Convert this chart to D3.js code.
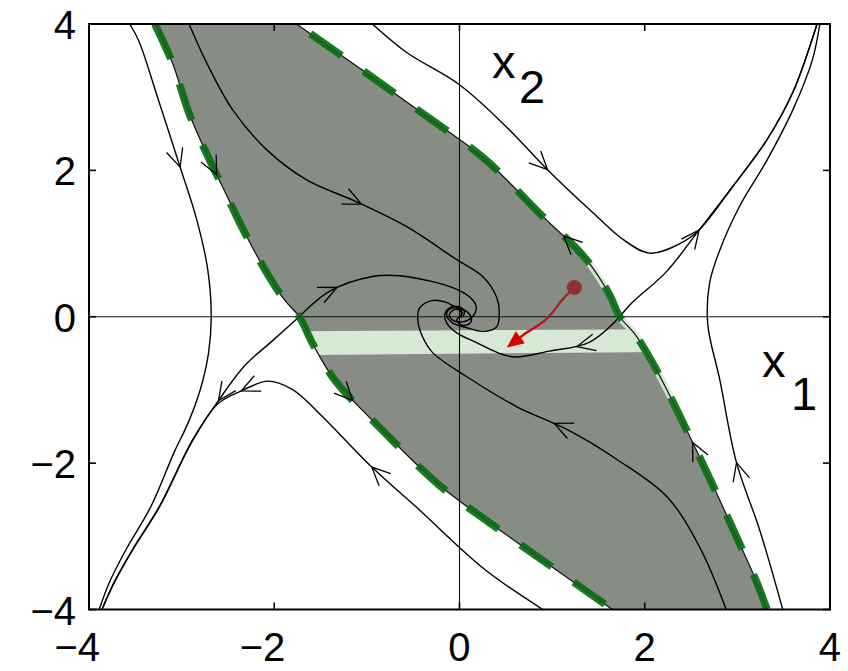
<!DOCTYPE html>
<html><head><meta charset="utf-8">
<script src="https://cdn.jsdelivr.net/npm/d3@7"></script>
<style>
html,body{margin:0;padding:0;background:#fff;}
svg{display:block;}
</style></head><body>
<svg id="c" width="848" height="671"></svg>
<script>
// ---------- data (state-space coordinates x1, x2) ----------
const xTicks = [-4, -2, 0, 2, 4];
const yTicks = [-4, -2, 0, 2, 4];

// trajectories (ordered in direction of motion)
const trajA = [[-3.56,4.0],[-3.46,3.76],[-3.26,3.0],[-3.02,2.06],[-2.84,1.34],[-2.72,0.66],[-2.68,0.0],[-2.71,-0.5],[-2.80,-1.0],[-2.93,-1.45],[-3.08,-1.85],[-3.33,-2.59],[-3.60,-3.18],[-3.78,-3.63],[-3.89,-4.0]];
const trajB = [[-1.73,0],[-2.03,-0.34],[-2.32,-0.67],[-2.61,-1.16],[-2.88,-1.68],[-3.24,-2.59],[-3.53,-3.18],[-3.73,-3.63],[-3.86,-4.0]];
const trajC = [[0.90,-4.0],[0.27,-3.45],[-0.45,-2.62],[-0.95,-2.05],[-1.53,-1.30],[-1.81,-0.99],[-2.07,-0.88],[-2.35,-1.01],[-2.61,-1.19],[-2.88,-1.69],[-3.24,-2.60],[-3.53,-3.19],[-3.73,-3.64],[-3.86,-4.0]];
const trajD = [[3.49,-4.0],[3.24,-2.91],[2.99,-1.99],[2.81,-0.86],[2.68,-0.1],[2.70,0.46],[2.81,0.91],[3.02,1.50],[3.32,2.14],[3.60,2.83],[3.81,3.51],[3.89,4.0]];
const trajE = [[1.73,0],[1.87,0.2],[2.23,0.61],[2.59,1.19],[2.95,1.78],[3.32,2.42],[3.60,3.07],[3.86,4.0]];
const trajF = [[-0.94,4.0],[-0.57,3.61],[0,3.17],[0.51,2.59],[0.95,2.01],[1.33,1.55],[1.51,1.34],[1.73,1.09],[2.05,0.87],[2.38,1.0],[2.59,1.19],[2.95,1.78],[3.32,2.42],[3.60,3.07],[3.86,4.0]];
const trajG = [[-2.92,4.0],[-2.73,3.47],[-2.45,2.83],[-2.08,2.28],[-1.65,1.87],[-1.11,1.57],[-0.57,1.23],[-0.03,0.78],[0.25,0.55],[0.40,0.27],[0.43,0.05],[0.40,-0.14],[0.25,-0.20],[0.08,-0.15],[-0.08,-0.08],[-0.14,0.03],[-0.11,0.10],[-0.02,0.12],[0.03,0.05],[0,0]];
const trajH = [[-1.73,0],[-1.40,0.35],[-0.94,0.55],[-0.65,0.56],[-0.29,0.48],[-0.08,0.40],[0.11,0.27],[0.18,0.14],[0.14,0],[0.03,-0.07],[-0.08,-0.04],[-0.11,0.03],[-0.05,0.10],[0.01,0.08],[0.02,0.03],[0,0]];
const trajI = [[1.73,0],[1.40,-0.35],[0.97,-0.47],[0.60,-0.55],[0.43,-0.50],[0.18,-0.35],[-0.03,-0.22],[-0.14,-0.08],[-0.16,0.03],[-0.11,0.12],[-0.02,0.14],[0.05,0.08],[0.04,0.01],[0,0]];
const trajJ = [[2.88,-4.0],[2.59,-3.14],[2.24,-2.46],[1.70,-1.95],[1.16,-1.54],[0.62,-1.23],[0.08,-0.82],[-0.29,-0.49],[-0.40,-0.27],[-0.45,-0.05],[-0.43,0.12],[-0.30,0.22],[-0.15,0.20],[-0.04,0.13],[0.08,0.07],[0.13,-0.03],[0.10,-0.10],[0.02,-0.11],[-0.03,-0.05],[0,0]];

// stable manifolds of the saddles (region-of-attraction boundary), ordered in direction of motion
const bndUL = [[-3.29,4.0],[-3.10,3.47],[-2.92,2.78],[-2.72,2.2],[-2.56,1.78],[-2.32,1.15],[-2.10,0.64],[-1.89,0.23],[-1.73,0]];
const bndLL = [[1.65,-4.0],[1.08,-3.49],[0.43,-2.91],[-0.22,-2.30],[-0.81,-1.58],[-1.35,-0.86],[-1.58,-0.38],[-1.73,0]];
const bndLR = [[3.32,-4.0],[3.21,-3.63],[2.92,-2.81],[2.59,-1.91],[2.24,-1.0],[2.08,-0.62],[1.89,-0.23],[1.73,0]];
const bndUR = [[-1.76,4.0],[-1.05,3.37],[-0.40,2.78],[0.25,2.18],[0.86,1.42],[1.37,0.78],[1.62,0.30],[1.73,0]];

// light band inside the region
const bandPoly = [[-2.2,-0.20],[2.2,-0.17],[2.2,-0.48],[-2.2,-0.53]];
// halo along right boundary near the saddle
const haloPts = [[1.15,1.1],[1.37,0.78],[1.62,0.30],[1.73,0],[1.89,-0.23],[2.08,-0.62],[2.24,-1.0],[2.40,-1.4]];

// red sample trajectory
const redTraj = [[1.24,0.40],[1.11,0.23],[0.94,-0.03],[0.72,-0.22],[0.51,-0.42]];

// arrow marks: [curve name, x1, x2]
const arrowMarks = [
  ['A',-3.02,2.05],['D',2.99,-1.99],['B',-2.59,-1.16],['C',-2.35,-1.02],['C',-0.95,-2.05],
  ['E',2.59,1.19],['F',0.95,2.01],['G',-1.05,1.56],['H',-1.30,0.34],['I',1.26,-0.38],['J',1.0,-1.52],
  ['UL',-2.59,1.97],['UR',1.11,1.09],['LL',-1.13,-1.12],['LR',2.52,-1.72]
];

// ---------- drawing ----------
const M = {left:89, right:830, top:24, bottom:609.5};
const x = d3.scaleLinear().domain([-4,4]).range([M.left, M.right]);
const y = d3.scaleLinear().domain([-4,4]).range([M.bottom, M.top]);
const svg = d3.select('#c');
const line = d3.line().x(d=>x(d[0])).y(d=>y(d[1])).curve(d3.curveCatmullRom.alpha(0.5));
const lineLin = d3.line().x(d=>x(d[0])).y(d=>y(d[1]));

const defs = svg.append('defs');
defs.append('clipPath').attr('id','plot').append('rect')
  .attr('x',M.left).attr('y',M.top).attr('width',M.right-M.left).attr('height',M.bottom-M.top);

const leftBnd = bndUL.concat(bndLL.slice().reverse().slice(1));   // top -> saddle -> bottom
const rightBnd = bndLR.concat(bndUR.slice().reverse().slice(1));  // bottom -> saddle -> top
const regionD = line(leftBnd) + 'L' + line(rightBnd).slice(1) + 'Z';
defs.append('clipPath').attr('id','region').append('path').attr('d', regionD);

const g = svg.append('g').attr('clip-path','url(#plot)');

// region fill
g.append('path').attr('d', regionD).attr('fill','#878c85');
g.append('g').attr('clip-path','url(#region)')
  .append('path').attr('d', lineLin(bandPoly)+'Z').attr('fill','#d7e9d5');
g.append('path').attr('d', line(haloPts)).attr('fill','none')
  .attr('stroke','#d7e9d5').attr('stroke-width',7).attr('stroke-linecap','round').attr('opacity',0.9);

// axis zero lines
g.append('line').attr('x1',x(0)).attr('x2',x(0)).attr('y1',M.top).attr('y2',M.bottom)
  .attr('stroke','#111').attr('stroke-width',1.1);
g.append('line').attr('x1',M.left).attr('x2',M.right).attr('y1',y(0)).attr('y2',y(0))
  .attr('stroke','#111').attr('stroke-width',1.1);

// trajectories
const curves = {A:trajA,B:trajB,C:trajC,D:trajD,E:trajE,F:trajF,G:trajG,H:trajH,I:trajI,J:trajJ};
const pathEls = {};
Object.keys(curves).forEach(k=>{
  pathEls[k] = g.append('path').attr('d', line(curves[k])).attr('fill','none')
    .attr('stroke','#000').attr('stroke-width',1.4).node();
});
// boundary thin lines
const lb = g.append('path').attr('d', line(leftBnd)).attr('fill','none').attr('stroke','#111').attr('stroke-width',1.2).node();
const rb = g.append('path').attr('d', line(rightBnd)).attr('fill','none').attr('stroke','#111').attr('stroke-width',1.2).node();
pathEls.UL = lb; pathEls.LL = lb; pathEls.LR = rb; pathEls.UR = rb;

// green dashed boundaries
[leftBnd, rightBnd].forEach(pts=>{
  g.append('path').attr('d', line(pts)).attr('fill','none')
    .attr('stroke','#0a6c12').attr('stroke-width',7.5)
    .attr('stroke-dasharray','38,27').attr('stroke-opacity',0.92);
});

// chevron arrows
const AL = 20, ANG = 25*Math.PI/180;
arrowMarks.forEach(([k,ax,ay])=>{
  const el = pathEls[k];
  const total = el.getTotalLength();
  const px = x(ax), py = y(ay);
  let best = 0, bd = Infinity;
  for (let l=0; l<=total; l+=1) {
    const p = el.getPointAtLength(l);
    const d = (p.x-px)**2 + (p.y-py)**2;
    if (d < bd) { bd = d; best = l; }
  }
  const P = el.getPointAtLength(best);
  const p1 = el.getPointAtLength(Math.max(0,best-4)), p2 = el.getPointAtLength(Math.min(total,best+4));
  let ux = p2.x-p1.x, uy = p2.y-p1.y; const n = Math.hypot(ux,uy)||1; ux/=n; uy/=n;
  const bx = -ux, by = -uy;
  const r = (a)=>[P.x + AL*(bx*Math.cos(a)-by*Math.sin(a)), P.y + AL*(bx*Math.sin(a)+by*Math.cos(a))];
  const a1 = r(ANG), a2 = r(-ANG);
  g.append('path').attr('d',`M${a1[0]},${a1[1]}L${P.x},${P.y}L${a2[0]},${a2[1]}`)
    .attr('fill','none').attr('stroke','#000').attr('stroke-width',1.3);
});

// red trajectory
const s0 = redTraj[0], s1 = redTraj[redTraj.length-1];
const grad = defs.append('linearGradient').attr('id','rg').attr('gradientUnits','userSpaceOnUse')
  .attr('x1',x(s0[0])).attr('y1',y(s0[1])).attr('x2',x(s1[0])).attr('y2',y(s1[1]));
grad.append('stop').attr('offset','0').attr('stop-color','#8a3535');
grad.append('stop').attr('offset','1').attr('stop-color','#d80000');
const tipX = x(s1[0]), tipY = y(s1[1]);
const pv = redTraj[redTraj.length-2];
let dx = tipX - x(pv[0]), dy = tipY - y(pv[1]); const dn = Math.hypot(dx,dy); dx/=dn; dy/=dn;
const HL = 17, HW = 7.5;
const baseX = tipX - HL*dx, baseY = tipY - HL*dy;
g.append('path').attr('d', line(redTraj.slice(0,-1)) + `L${baseX+3*dx},${baseY+3*dy}`)
  .attr('fill','none').attr('stroke','url(#rg)').attr('stroke-width',2.4);
g.append('path').attr('d',`M${tipX},${tipY}L${baseX - HW*dy},${baseY + HW*dx}L${baseX + HW*dy},${baseY - HW*dx}Z`)
  .attr('fill','#d50000');
g.append('circle').attr('cx',x(s0[0])).attr('cy',y(s0[1])).attr('r',7.5).attr('fill','#8c3232');

// ---------- axes ----------
const font = '"Liberation Sans", Arial, Helvetica, sans-serif';
const fmt = d => (d<0 ? '\u2212' + Math.abs(d) : String(d));
svg.append('rect').attr('x',M.left).attr('y',M.top).attr('width',M.right-M.left).attr('height',M.bottom-M.top)
  .attr('fill','none').attr('stroke','#000').attr('stroke-width',2);

const tickLen = 7;
const ax = svg.append('g');
xTicks.forEach(t=>{
  ax.append('line').attr('x1',x(t)).attr('x2',x(t)).attr('y1',M.bottom).attr('y2',M.bottom-tickLen).attr('stroke','#000').attr('stroke-width',1.6);
  ax.append('line').attr('x1',x(t)).attr('x2',x(t)).attr('y1',M.top).attr('y2',M.top+tickLen).attr('stroke','#000').attr('stroke-width',1.6);
});
yTicks.forEach(t=>{
  ax.append('line').attr('x1',M.left).attr('x2',M.left+tickLen).attr('y1',y(t)).attr('y2',y(t)).attr('stroke','#000').attr('stroke-width',1.6);
  ax.append('line').attr('x1',M.right).attr('x2',M.right-tickLen).attr('y1',y(t)).attr('y2',y(t)).attr('stroke','#000').attr('stroke-width',1.6);
});
const FS = 40;
const digitHalf = 0.556*FS/2;
ax.selectAll('text.xt').data(xTicks).enter().append('text')
  .attr('x', d=>x(d)+digitHalf).attr('y', 661).attr('text-anchor','end')
  .attr('font-family',font).attr('font-size',FS).text(fmt);
ax.selectAll('text.yt').data(yTicks).enter().append('text')
  .attr('x', 76).attr('y', d=>y(d)+15).attr('text-anchor','end')
  .attr('font-family',font).attr('font-size',FS).text(fmt);

// state labels
const lab = svg.append('g').attr('font-family',font).attr('font-size',47);
lab.append('text').attr('x',762).attr('y',377).text('x');
lab.append('text').attr('x',791).attr('y',410).text('1');
lab.append('text').attr('x',492).attr('y',78).text('x');
lab.append('text').attr('x',519).attr('y',103).text('2');
</script>
</body></html>
